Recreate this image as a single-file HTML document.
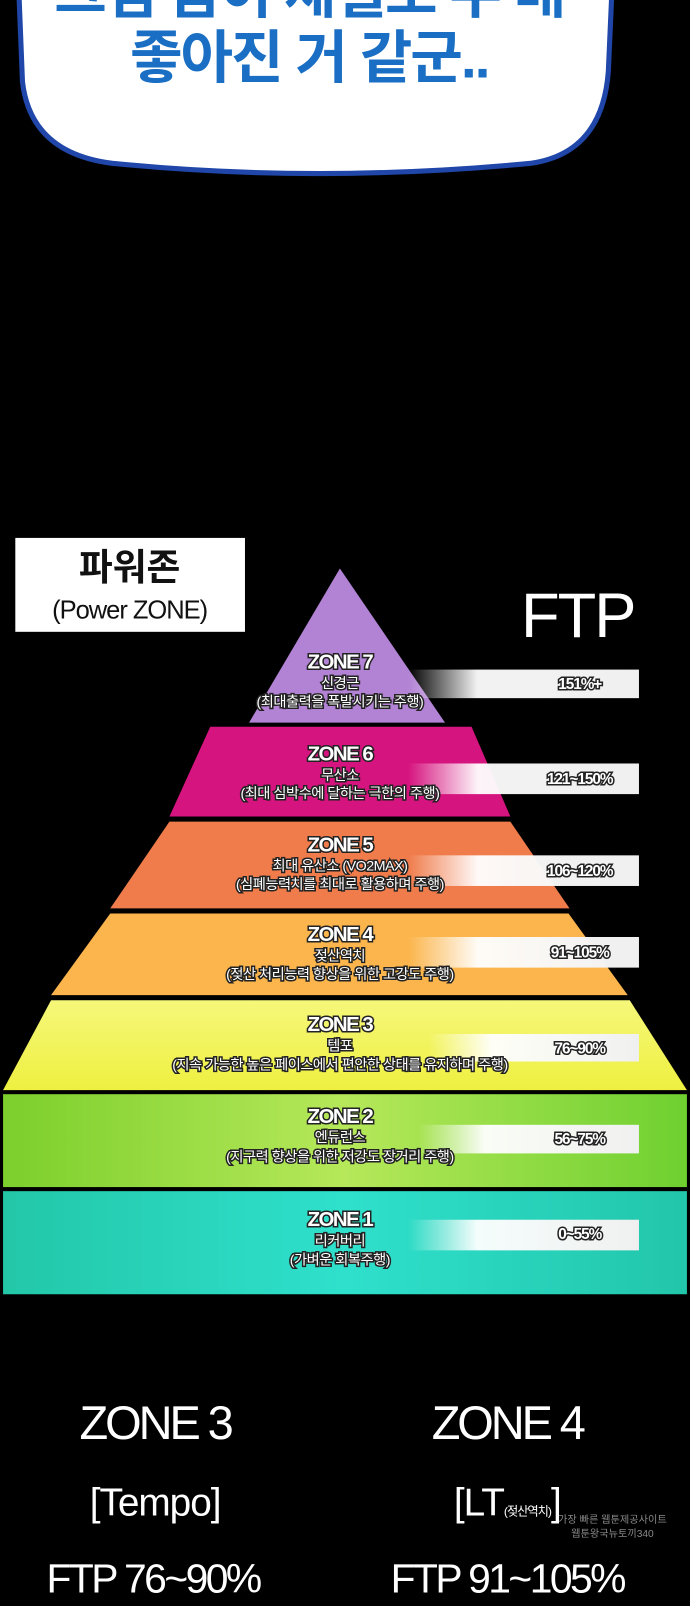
<!DOCTYPE html>
<html><head><meta charset="utf-8"><style>
html,body{margin:0;padding:0;background:#000;width:690px;height:1600px;overflow:hidden}
#w{position:absolute;left:0;top:0;width:676px;height:1568px;transform:scale(1.0207);transform-origin:0 0}
svg text{font-family:"Liberation Sans","Noto Sans CJK KR",sans-serif}
</style></head><body><div id="w">
<svg width="676" height="1568" viewBox="0 0 676 1568" xmlns="http://www.w3.org/2000/svg">
<defs>
<linearGradient id="bar" x1="0" x2="1"><stop offset="0" stop-color="#fff" stop-opacity="0"/><stop offset="0.3" stop-color="#fff" stop-opacity="0.95"/><stop offset="1" stop-color="#f0f0f0"/></linearGradient>
<linearGradient id="g3" x1="0" x2="0" y1="0" y2="1"><stop offset="0" stop-color="#f6f77a"/><stop offset="1" stop-color="#eef040"/></linearGradient>
<linearGradient id="g2" x1="0" x2="1"><stop offset="0" stop-color="#7ccf2c"/><stop offset="0.5" stop-color="#b6e85a"/><stop offset="1" stop-color="#6fd030"/></linearGradient>
<linearGradient id="g1" x1="0" x2="1"><stop offset="0" stop-color="#23c7a8"/><stop offset="0.5" stop-color="#2fe0cc"/><stop offset="1" stop-color="#22c6aa"/></linearGradient>
</defs>
<path d="M18,-20 L600,-20 L596,70 Q590,150 520,160 Q310,180 110,160 Q30,150 22,80 Z" fill="#fff" stroke="#1f46a8" stroke-width="5"/>
<text x="303" y="12" text-anchor="middle" font-size="56" font-weight="bold" fill="#1a6fc4" letter-spacing="-2">그럼 몸이 체질도 두 배</text>
<text x="303" y="76" text-anchor="middle" font-size="56" font-weight="bold" fill="#1a6fc4" letter-spacing="-2">좋아진 거 같군..</text>
<rect x="15" y="527" width="225" height="92" fill="#fff"/>
<text x="127" y="568" text-anchor="middle" font-size="36" font-weight="bold" fill="#111">파워존</text>
<text x="127" y="606" text-anchor="middle" font-size="25" fill="#111" letter-spacing="-1">(Power ZONE)</text>
<text x="566" y="624" text-anchor="middle" font-size="62" fill="#fff" letter-spacing="-2">FTP</text>
<polygon points="333,557 436,708 244,708" fill="#b283d4"/>
<polygon points="166,800 500,800 462,712 206,712" fill="#d6147f"/>
<polygon points="108,890 558,890 500,805 166,805" fill="#f07c4c"/>
<polygon points="50,975 615,975 557,895 108,895" fill="#fbb54c"/>
<polygon points="3,1068 673,1068 617,980 50,980" fill="url(#g3)"/>
<rect x="3" y="1072" width="670" height="91" fill="url(#g2)"/>
<rect x="3" y="1167" width="670" height="101" fill="url(#g1)"/>
<g fill="url(#bar)">
<rect x="400" y="656" width="226" height="28"/>
<rect x="400" y="748" width="226" height="30"/>
<rect x="400" y="838" width="226" height="30"/>
<rect x="400" y="918" width="226" height="30"/>
<rect x="420" y="1013" width="206" height="27"/>
<rect x="410" y="1102" width="216" height="28"/>
<rect x="400" y="1195" width="226" height="30"/>
</g>
<g font-size="15" fill="#fff" stroke="#222" stroke-width="3" paint-order="stroke" text-anchor="middle" font-weight="bold" letter-spacing="-1">
<text x="568" y="675">151%+</text>
<text x="568" y="768">121~150%</text>
<text x="568" y="858">106~120%</text>
<text x="568" y="938">91~105%</text>
<text x="568" y="1032">76~90%</text>
<text x="568" y="1121">56~75%</text>
<text x="568" y="1214">0~55%</text>
</g>
<g fill="#fff" stroke="#222" stroke-width="3" paint-order="stroke" text-anchor="middle" letter-spacing="-0.5">
<text x="333" y="655" font-size="20" font-weight="bold" letter-spacing="-1.5">ZONE 7</text>
<text x="333" y="674" font-size="14">신경근</text>
<text x="333" y="692" font-size="14">(최대출력을 폭발시키는 주행)</text>
<text x="333" y="745" font-size="20" font-weight="bold" letter-spacing="-1.5">ZONE 6</text>
<text x="333" y="764" font-size="14">무산소</text>
<text x="333" y="782" font-size="14">(최대 심박수에 달하는 극한의 주행)</text>
<text x="333" y="834" font-size="20" font-weight="bold" letter-spacing="-1.5">ZONE 5</text>
<text x="333" y="853" font-size="14">최대 유산소 (VO2MAX)</text>
<text x="333" y="871" font-size="14">(심폐능력치를 최대로 활용하며 주행)</text>
<text x="333" y="922" font-size="20" font-weight="bold" letter-spacing="-1.5">ZONE 4</text>
<text x="333" y="941" font-size="14">젖산역치</text>
<text x="333" y="959" font-size="14">(젖산 처리능력 향상을 위한 고강도 주행)</text>
<text x="333" y="1010" font-size="20" font-weight="bold" letter-spacing="-1.5">ZONE 3</text>
<text x="333" y="1029" font-size="14">템포</text>
<text x="333" y="1048" font-size="14">(지속 가능한 높은 페이스에서 편안한 상태를 유지하며 주행)</text>
<text x="333" y="1100" font-size="20" font-weight="bold" letter-spacing="-1.5">ZONE 2</text>
<text x="333" y="1119" font-size="14">엔듀런스</text>
<text x="333" y="1138" font-size="14">(지구력 향상을 위한 저강도 장거리 주행)</text>
<text x="333" y="1201" font-size="20" font-weight="bold" letter-spacing="-1.5">ZONE 1</text>
<text x="333" y="1220" font-size="14">리커버리</text>
<text x="333" y="1239" font-size="14">(가벼운 회복주행)</text>
</g>
<g fill="#fff" text-anchor="middle">
<text x="152" y="1410" font-size="46" letter-spacing="-3">ZONE 3</text>
<text x="152" y="1485" font-size="38" letter-spacing="-1">[Tempo]</text>
<text x="150" y="1560" font-size="40" letter-spacing="-2.5">FTP 76~90%</text>
<text x="497" y="1410" font-size="46" letter-spacing="-3">ZONE 4</text>
<text x="497" y="1485" font-size="38" letter-spacing="-1">[LT<tspan font-size="12">(젖산역치)</tspan>]</text>
<text x="497" y="1560" font-size="40" letter-spacing="-2.5">FTP 91~105%</text>
</g>
<text x="600" y="1492" font-size="10" fill="#aaa" text-anchor="middle" opacity="0.8">가장 빠른 웹툰제공사이트</text>
<text x="600" y="1506" font-size="10" fill="#aaa" text-anchor="middle" opacity="0.8">웹툰왕국뉴토끼340</text>
</svg>
</div></body></html>
